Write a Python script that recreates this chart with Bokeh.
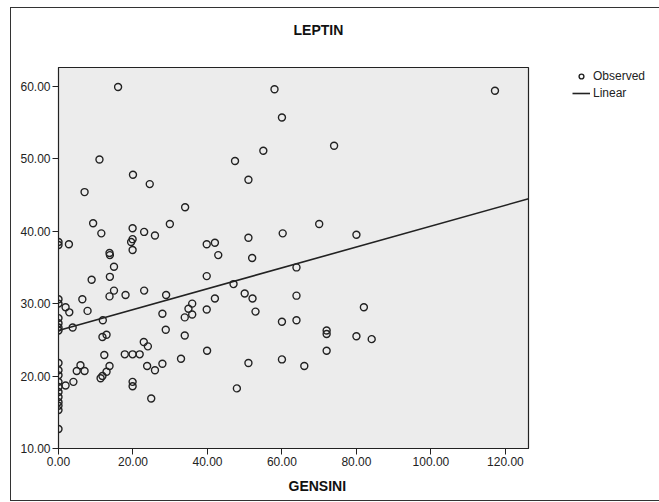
from bokeh.plotting import figure
from bokeh.models import (Range1d, FixedTicker, NumeralTickFormatter, Legend,
                          LegendItem, Title, ColumnDataSource)
from bokeh.embed import file_html
from bokeh.resources import INLINE

# ---- data ----
gensini = [0, 0, 0, 0, 0, 0, 0, 0, 0, 0, 0, 0, 0, 0, 0, 0, 0, 0, 0,
           1.9, 2.9, 3.8, 6.4, 7.8, 2.8, 1.9, 4.0, 4.9, 5.9, 7.0,
           9.3, 11.5, 13.7, 13.8, 14.9, 13.8, 8.9, 14.9, 13.7, 18.0, 23.0, 28.9,
           11.9, 11.8, 12.9, 12.3, 17.8, 19.9, 21.8, 22.9, 24.0, 13.7, 12.9, 11.8,
           11.3, 19.9, 19.9, 24.9, 23.8, 25.9, 27.9, 28.8, 33.9, 32.9, 39.9, 27.9,
           34.9, 35.9, 33.9, 35.9, 39.8, 42.0, 47.0, 50.0, 52.1, 52.9, 39.8, 60.0,
           60.0, 51.0, 47.9, 63.9, 63.9, 63.9, 66.0, 72.0, 72.0, 72.0, 80.0, 84.1,
           82.0, 80.0, 70.0, 60.2, 51.0, 52.0, 42.9, 39.8, 42.0, 29.9, 25.9, 23.0,
           19.9, 19.9, 19.5, 19.9, 34.0, 7.0, 24.5, 20.0, 11.0, 47.4, 51.0, 55.0,
           74.0, 60.0, 16.0, 58.0, 117.2]
leptin = [38.5, 38.1, 30.6, 30.0, 28.0, 27.3, 26.7, 26.3, 21.8, 20.8, 20.1, 19.2,
          18.5, 17.8, 17.1, 16.4, 15.9, 15.3, 12.7,
          29.5, 28.8, 26.7, 30.6, 29.0, 38.2, 18.7, 19.2, 20.7, 21.5, 20.7,
          41.1, 39.7, 37.0, 36.7, 35.1, 33.7, 33.3, 31.8, 31.0, 31.2, 31.8, 31.2,
          27.7, 25.4, 25.7, 22.9, 23.0, 23.0, 23.0, 24.7, 24.1, 21.4, 20.6, 20.0,
          19.7, 19.2, 18.6, 16.9, 21.4, 20.8, 21.7, 26.4, 25.6, 22.4, 23.5, 28.6,
          29.3, 30.0, 28.1, 28.5, 29.2, 30.7, 32.7, 31.4, 30.7, 28.9, 33.8, 27.5,
          22.3, 21.8, 18.3, 35.0, 31.1, 27.7, 21.4, 26.3, 25.8, 23.5, 25.5, 25.1,
          29.5, 39.5, 41.0, 39.7, 39.1, 36.3, 36.7, 38.2, 38.4, 41.0, 39.4, 39.9,
          40.4, 38.9, 38.5, 37.4, 43.3, 45.4, 46.5, 47.8, 49.9, 49.7, 47.1, 51.1,
          51.8, 55.7, 59.9, 59.6, 59.4]

fit_intercept = 26.3
fit_slope = 0.144

x_ticks = [0, 20, 40, 60, 80, 100, 120]
y_ticks = [10, 20, 30, 40, 50, 60]

title_text = "LEPTIN"
x_label = "GENSINI"
legend_labels = ["Observed", "Linear"]

X_MIN, X_MAX = 0, 126.2
Y_MIN, Y_MAX = 10, 62.6

FONT = "Liberation Sans"

p = figure(frame_width=470, frame_height=381,
           min_border_left=47, min_border_right=128,
           min_border_top=59, min_border_bottom=50,
           x_range=Range1d(X_MIN, X_MAX), y_range=Range1d(Y_MIN, Y_MAX),
           output_backend="svg", toolbar_location=None,
           background_fill_color="#ececec", border_fill_color="white",
           outline_line_color="#222222", outline_line_width=1.2,
           styles={"border": "1px solid #333333",
                   "margin-left": "10px", "margin-top": "7px"})
p.title = None

# spacer (closest to the frame), then the title further out
p.add_layout(Title(text=" ", text_font_size="1px", standoff=27), "above")
p.add_layout(Title(text=title_text, align="left", offset=235, standoff=0,
                   text_font=FONT, text_font_size="14px", text_font_style="bold",
                   text_color="#111111"), "above")
p.add_layout(Title(text=x_label, align="left", offset=230, standoff=14,
                   text_font=FONT, text_font_size="14px", text_font_style="bold",
                   text_color="#111111"), "below")

p.grid.visible = False
for ax in (p.xaxis[0], p.yaxis[0]):
    ax.major_tick_in = 0
    ax.major_tick_out = 6
    ax.minor_tick_in = 0
    ax.minor_tick_out = 0
    ax.axis_line_color = "#222222"
    ax.major_tick_line_color = "#222222"
    ax.major_label_text_font = FONT
    ax.major_label_text_font_size = "12px"
    ax.major_label_text_color = "#222222"
    ax.major_label_standoff = 2
    ax.formatter = NumeralTickFormatter(format="0.00")
p.xaxis[0].ticker = FixedTicker(ticks=x_ticks)
p.yaxis[0].ticker = FixedTicker(ticks=y_ticks)

src = ColumnDataSource(data=dict(x=gensini, y=leptin))
sc = p.scatter("x", "y", source=src, marker="circle", size=7,
               fill_color=None, line_color="#222222", line_width=1.4)

lx = [X_MIN, X_MAX]
ly = [fit_intercept + fit_slope * v for v in lx]
ln = p.line(lx, ly, line_color="#222222", line_width=1.6)

legend = Legend(items=[LegendItem(label=legend_labels[0], renderers=[sc]),
                       LegendItem(label=legend_labels[1], renderers=[ln])],
                location=(44, 348), orientation="vertical",
                border_line_color=None, background_fill_alpha=0,
                padding=0, margin=0, spacing=3, glyph_width=18, glyph_height=12,
                label_standoff=3, label_height=12,
                label_text_font=FONT, label_text_font_size="12px",
                label_text_color="#222222")
p.add_layout(legend, "right")

open("out.html", "w").write(file_html(p, INLINE))
